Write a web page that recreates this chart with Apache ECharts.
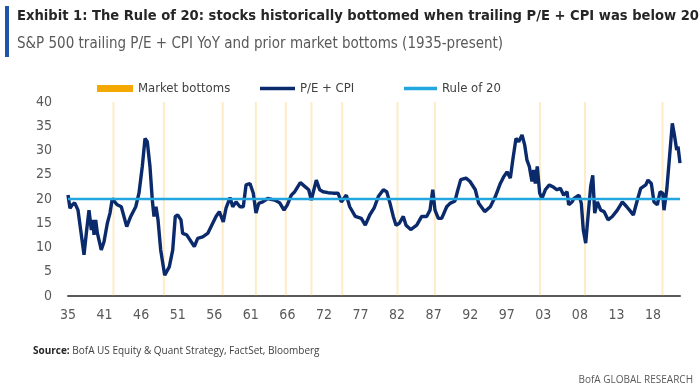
<!DOCTYPE html>
<html>
<head>
<meta charset="utf-8">
<script src="https://cdn.jsdelivr.net/npm/echarts@6/dist/echarts.min.js"></script>
<style>
html,body{margin:0;padding:0;background:#fff;}
#c{width:700px;height:392px;}
</style>
</head>
<body>
<div id="c"></div>
<script>
// ---- data ----
const years = [1935.85,1936.13,1936.46,1936.80,1937.08,1937.27,1937.65,1938.12,1938.50,1938.83,1939.16,1939.35,1939.54,1939.78,1940.01,1940.57,1940.96,1941.43,1941.81,1942.14,1942.48,1942.84,1943.41,1944.18,1944.75,1945.46,1945.92,1946.39,1946.78,1947.10,1947.48,1947.81,1948.05,1948.34,1948.62,1949.00,1949.57,1950.22,1950.71,1951.07,1951.41,1951.88,1952.12,1952.69,1953.77,1954.25,1954.96,1955.67,1956.14,1956.85,1957.32,1957.88,1958.27,1958.84,1959.22,1959.69,1960.25,1960.72,1961.11,1961.67,1962.14,1962.52,1962.91,1963.47,1964.18,1964.79,1965.18,1965.89,1966.50,1966.97,1967.53,1968.02,1968.81,1969.43,1970.00,1970.37,1971.08,1971.56,1972.03,1972.74,1973.45,1974.16,1974.63,1975.34,1975.82,1976.61,1977.46,1978.03,1978.66,1979.27,1979.88,1980.59,1981.07,1981.54,1982.00,1982.39,1982.86,1983.42,1983.81,1984.47,1985.33,1986.03,1986.74,1987.21,1987.60,1987.92,1988.39,1988.87,1989.58,1990.05,1990.76,1991.09,1991.57,1992.32,1992.89,1993.64,1994.12,1994.97,1995.77,1996.48,1997.19,1997.67,1998.14,1998.61,1998.95,1999.41,1999.80,2000.27,2000.65,2000.97,2001.30,2001.68,2001.92,2002.15,2002.43,2002.77,2003.10,2003.57,2004.14,2004.76,2005.23,2005.70,2006.18,2006.65,2006.89,2007.36,2007.64,2008.35,2008.68,2008.96,2009.30,2009.63,2010.01,2010.30,2010.58,2010.95,2011.43,2011.90,2012.47,2013.08,2013.79,2014.50,2015.12,2015.69,2016.06,2016.63,2017.11,2017.82,2018.14,2018.61,2018.99,2019.46,2019.85,2020.23,2020.41,2020.80,2021.12,2021.59,2021.93,2022.21,2022.40,2022.68];
const peCpi = [20.8,18.1,18.8,19.2,19.4,17.7,13.6,8.5,13.6,17.7,13.6,15.7,12.6,15.7,13.0,9.5,11.2,15.0,17.1,20.1,19.4,18.8,18.4,14.3,16.4,18.4,21.2,26.7,32.5,31.8,26.7,19.8,16.4,18.4,15.7,9.5,4.3,6.0,9.5,16.4,16.7,15.7,12.9,12.6,10.2,11.9,12.2,12.9,14.3,16.4,17.4,15.3,18.1,20.3,18.4,19.4,18.4,18.4,22.9,23.2,21.2,17.1,19.1,19.4,20.1,19.9,19.8,19.2,17.7,18.8,20.8,21.5,23.4,22.6,21.9,19.8,23.9,21.9,21.5,21.3,21.2,21.2,19.4,20.8,18.4,16.4,16.0,14.6,16.7,18.1,20.5,21.9,21.5,19.1,16.4,14.6,15.0,16.4,14.6,13.7,14.6,16.4,16.4,17.7,21.9,17.7,16.0,16.0,18.4,19.1,19.6,21.5,24.0,24.3,23.6,21.9,19.1,17.4,18.4,20.5,23.2,24.6,25.6,24.3,28.0,32.5,31.8,33.2,31.1,28.0,26.7,23.6,26.0,23.2,26.7,21.2,20.1,21.9,22.9,22.4,21.9,22.2,20.8,21.5,18.8,19.4,20.1,20.8,19.1,13.6,10.9,16.4,22.6,24.9,17.1,19.4,17.7,17.4,15.7,16.4,17.7,19.4,18.4,17.4,16.7,19.8,22.2,22.9,23.9,23.2,19.4,18.8,21.5,21.2,17.7,21.9,27.4,35.6,32.8,30.1,30.8,27.4];
const marketBottoms = [1942.3,1949.45,1957.8,1962.5,1966.75,1970.4,1974.75,1982.6,1987.9,2002.8,2009.2,2020.2];
const ruleOf20 = 20;
const xTickLabels = ['35','41','46','51','56','61','66','72','77','82','87','92','97','03','08','13','18'];
const yMax = 40;

// ---- chart ----
const xStart = years[0];
const xEnd = years[years.length - 1];
const xStep = 5.1875;
const xTickValues = xTickLabels.map((_, i) => xStart + i * xStep);

const lineData = years.map((y, i) => [y, peCpi[i]]);
const bottomData = marketBottoms.map(y => [y, yMax]);
const ruleData = [[xStart, ruleOf20], [xEnd, ruleOf20]];

const chart = echarts.init(document.getElementById('c'), null, {renderer: 'canvas'});
const condensed = '"DejaVu Sans Condensed", "Liberation Sans Narrow", sans-serif';
const axisFont = {fontFamily: condensed, fontSize: 14, color: '#595959'};
const legendText = {fontFamily: condensed, fontSize: 13, color: '#404040'};

chart.setOption({
  animation: false,
  backgroundColor: '#ffffff',
  grid: {left: 68, right: 20, top: 102, bottom: 96, containLabel: false},
  legend: [
    {left: 97, top: 82, padding: 0, itemWidth: 36, itemHeight: 7, textStyle: legendText,
     data: [{name: 'Market bottoms', icon: 'rect', itemStyle: {color: '#F5A800', opacity: 1}}]},
    {left: 260, top: 82, padding: 0, itemWidth: 35, itemHeight: 7, textStyle: legendText,
     data: [{name: 'P/E + CPI', icon: 'path://M0,0 L10,0 L10,1 L0,1 Z'}]},
    {left: 404, top: 82, padding: 0, itemWidth: 33, itemHeight: 7, textStyle: legendText,
     data: [{name: 'Rule of 20', icon: 'path://M0,0 L10,0 L10,1 L0,1 Z'}]}
  ],
  xAxis: {
    type: 'value', min: xStart, max: xEnd,
    splitLine: {show: false},
    axisLine: {show: true, onZero: false, lineStyle: {color: '#595959', width: 2}},
    axisTick: {show: false},
    axisLabel: {
      customValues: xTickValues,
      margin: 12,
      ...axisFont,
      formatter: v => xTickLabels[Math.round((v - xStart) / xStep)]
    }
  },
  yAxis: {
    type: 'value', min: 0, max: yMax, interval: 5,
    splitLine: {show: false},
    axisLine: {show: false},
    axisTick: {show: false},
    axisLabel: {margin: 16, ...axisFont}
  },
  series: [
    {name: 'Market bottoms', type: 'bar', data: bottomData, barWidth: 2,
     itemStyle: {color: 'rgba(245,168,0,0.22)'}, silent: true, z: 1},
    {name: 'P/E + CPI', type: 'line', data: lineData, showSymbol: false, symbol: 'none',
     lineStyle: {color: '#0b2a6b', width: 3.4}, itemStyle: {color: '#0b2a6b'}, z: 3},
    {name: 'Rule of 20', type: 'line', data: ruleData, showSymbol: false, symbol: 'none',
     lineStyle: {color: '#22a6e0', width: 2.6}, itemStyle: {color: '#22a6e0'}, z: 4}
  ],
  graphic: [
    {type: 'rect', left: 5, top: 6, shape: {width: 4, height: 51}, style: {fill: '#1f55a8'}},
    {type: 'text', left: 17, top: 9, style: {text: 'Exhibit 1: The Rule of 20: stocks historically bottomed when trailing P/E + CPI was below 20',
      font: 'bold 14.6px "DejaVu Sans Condensed", "Liberation Sans Narrow"', fill: '#262626'}},
    {type: 'text', left: 17, top: 37, style: {text: 'S&P 500 trailing P/E + CPI YoY and prior market bottoms (1935-present)',
      font: '15px "DejaVu Sans Condensed", "Liberation Sans Narrow"', fill: '#595959'}},
    {type: 'text', left: 33, top: 346, style: {
      text: '{b|Source:} BofA US Equity & Quant Strategy, FactSet, Bloomberg',
      rich: {b: {font: 'bold 10px "Open Sans", "DejaVu Sans Condensed"', fill: '#262626'}},
      font: '10px "Open Sans", "DejaVu Sans Condensed"', fill: '#404040'}},
    {type: 'text', right: 7, top: 375, style: {text: 'BofA GLOBAL RESEARCH',
      font: '10px "Open Sans", "DejaVu Sans Condensed"', fill: '#595959'}}
  ]
});
</script>
</body>
</html>
